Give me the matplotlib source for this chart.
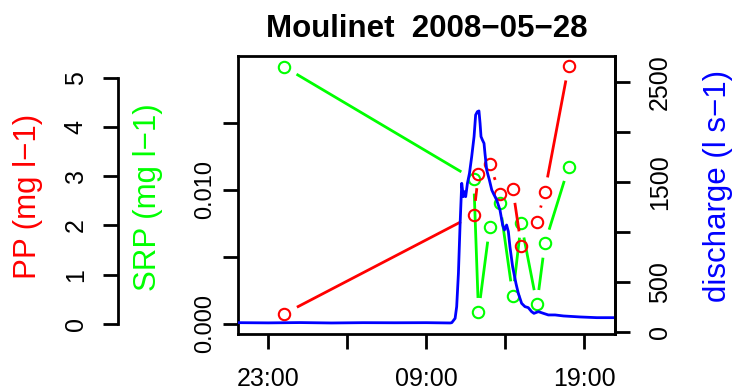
import numpy as np
import matplotlib
matplotlib.use("Agg")
import matplotlib.pyplot as plt

plt.rcParams['font.family'] = ['Liberation Sans', 'DejaVu Sans']

# sampling times (hours from 2008-05-27 00:00) and concentrations
sample_hours = [24.0, 36.0, 36.3, 37.0, 37.65, 38.47, 39.0, 40.0, 40.5, 42.0]
srp = [0.0192, 0.0108, 0.00085, 0.0072, 0.0090, 0.0021, 0.0075, 0.00145, 0.0060, 0.0117]
pp = [0.20, 2.21, 3.05, 3.26, 2.65, 2.75, 1.59, 2.08, 2.69, 5.24]

# discharge record
q_hours = [21.1, 23.0, 25.0, 27.0, 29.0, 31.0, 33.0, 34.5, 34.61, 34.82, 34.92, 35.03,
           35.13, 35.24, 35.34, 35.41, 35.49, 35.60, 35.73, 35.87, 36.02, 36.12,
           36.23, 36.33, 36.40, 36.46, 36.55, 36.65, 36.71, 36.82, 36.99, 37.14,
           37.24, 37.45, 37.66, 37.83, 37.94, 38.08, 38.19, 38.29, 38.46, 38.67,
           38.82, 39.03, 39.24, 39.45, 39.66, 39.81, 40.09, 40.41, 40.72, 41.15,
           41.68, 42.73, 43.79, 44.95]
q_values = [96, 94, 97, 93, 96, 95, 96, 93, 96, 139, 256, 588,
            1054, 1486, 1353, 1403, 1353, 1486, 1586, 1752, 1952, 2168,
            2201, 2208, 2085, 1952, 1918, 1885, 1785, 1619, 1519, 1420,
            1386, 1320, 1220, 1070, 1020, 1070, 1004, 854, 655, 489,
            389, 289, 256, 246, 206, 189, 206, 189, 173, 173,
            163, 153, 146, 146]

tick_hours = [23, 28, 33, 38, 43]
tick_labels = ["23:00", "", "09:00", "", "19:00"]

DPI = 100
fig = plt.figure(figsize=(7.39, 3.92), dpi=DPI)
ax = fig.add_axes([238 / 739, 58 / 392, 377 / 739, 278 / 392])
ax_pp = ax.twinx()
ax_q = ax.twinx()

lw = 2.0
tick_len = 10.8

ax.set_xlim(21.08, 44.94)
ax.set_ylim(-0.00077, 0.02001)
ax_pp.set_ylim(-0.21, 5.45)
ax_q.set_ylim(-17, 2756)

for s in ax.spines.values():
    s.set_linewidth(lw)

# x axis
ax.set_xticks(tick_hours)
ax.set_xticklabels(tick_labels, fontsize=18)
ax.tick_params(axis='x', length=tick_len, width=lw, pad=13)

# SRP axis (on the box)
ax.set_yticks([0, 0.005, 0.010, 0.015])
ax.set_yticklabels(["0.000", "", "0.010", ""], fontsize=17)
ax.tick_params(axis='y', length=tick_len, width=lw, pad=5, labelrotation=90)

# PP axis (outer left)
for k in ['top', 'bottom', 'right']:
    ax_pp.spines[k].set_visible(False)
ax_pp.spines['left'].set_visible(True)
ax_pp.spines['left'].set_position(('outward', 120 * 72 / DPI))
ax_pp.spines['left'].set_bounds(0, 5)
ax_pp.spines['left'].set_linewidth(lw)
ax_pp.yaxis.set_ticks_position('left')
ax_pp.set_yticks([0, 1, 2, 3, 4, 5])
ax_pp.tick_params(axis='y', length=tick_len, width=lw, pad=11, labelsize=18, labelrotation=90)

# discharge axis (right)
for k in ['top', 'bottom', 'left']:
    ax_q.spines[k].set_visible(False)
ax_q.spines['right'].set_linewidth(lw)
ax_q.set_yticks([0, 500, 1000, 1500, 2000, 2500])
ax_q.set_yticklabels(["0", "500", "", "1500", "", "2500"])
ax_q.tick_params(axis='y', length=tick_len, width=lw, pad=13, labelsize=18, labelrotation=90)
for t in ax_q.get_yticklabels():
    t.set_verticalalignment('center')
for t in ax.get_yticklabels() + ax_pp.get_yticklabels():
    t.set_verticalalignment('center')


def gapped_lines(a, xs, ys, color, gap=14.4):
    # R type="b": segments stop short of the points
    tr = a.transData
    inv = tr.inverted()
    pts = tr.transform(np.column_stack([xs, ys]))
    for p0, p1 in zip(pts[:-1], pts[1:]):
        d = p1 - p0
        L = np.hypot(*d)
        if L <= 2 * gap:
            continue
        u = d / L
        seg = inv.transform(np.array([p0 + u * gap, p1 - u * gap]))
        a.plot(seg[:, 0], seg[:, 1], color=color, lw=lw, solid_capstyle='butt')
    a.plot(xs, ys, 'o', mfc='none', mec=color, mew=1.5, ms=8.2, linestyle='none')


gapped_lines(ax, sample_hours, srp, '#00FF00')
gapped_lines(ax_pp, sample_hours, pp, '#FF0000')
ax_q.plot(q_hours, q_values, color='#0000FF', lw=lw)

fig.text(426.5 / 739, 1 - 37 / 392, "Moulinet  2008\u221205\u221228", ha='center',
         va='baseline', fontsize=22.5, fontweight='bold')
fig.text(28 / 739, 1 - 196 / 392, "PP (mg l\u22121)", rotation=90, ha='center',
         va='center', fontsize=22.5, color='#FF0000')
fig.text(148 / 739, 1 - 197 / 392, "SRP (mg l\u22121)", rotation=90, ha='center',
         va='center', fontsize=22.5, color='#00FF00')
fig.text(718 / 739, 1 - 186 / 392, "discharge (l s\u22121)", rotation=90, ha='center',
         va='center', fontsize=22.5, color='#0000FF')

fig.savefig("out.png", dpi=DPI)
